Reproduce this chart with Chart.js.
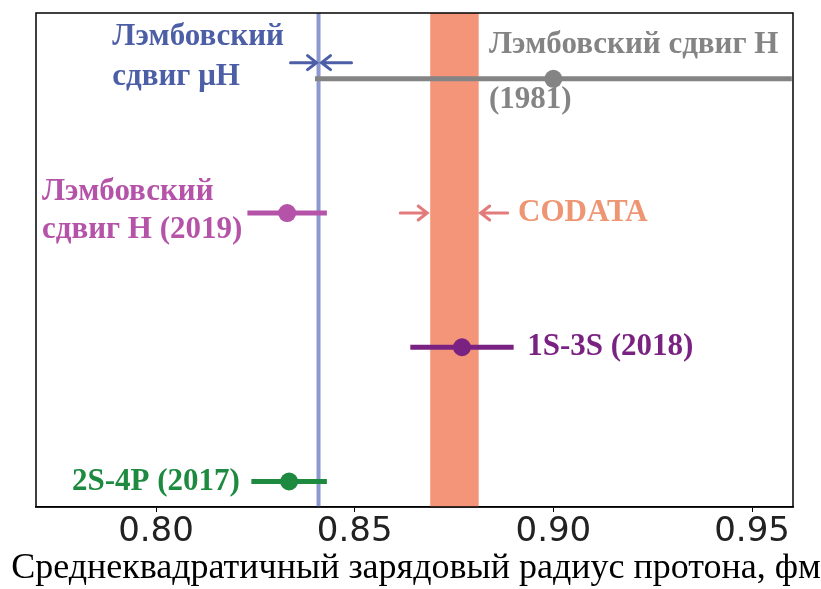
<!DOCTYPE html>
<html>
<head>
<meta charset="utf-8">
<script src="https://cdn.jsdelivr.net/npm/chart.js@4.4.1/dist/chart.umd.min.js"></script>
<style>
  body { margin: 0; background: #fff; }
  #wrap { width: 821px; height: 589px; }
</style>
</head>
<body>
<div id="wrap"><canvas id="chart"></canvas></div>
<script>
// ===== Data =====
const xTicks = [0.80, 0.85, 0.90, 0.95];
const measurements = ['2S-4P (2017)', '1S-3S (2018)', 'Лэмбовский сдвиг H (2019)', 'Лэмбовский сдвиг H (1981)'];
const radius = [0.8335, 0.877, 0.833, 0.900];
const uncertainty = [0.0095, 0.013, 0.010, 0.060];
const rowLevel = [0, 1, 2, 3];
const muonicRadius = 0.8409;
const codataRadius = 0.8751;
const codataUncertainty = 0.0061;
const xTitle = 'Среднеквадратичный зарядовый радиус протона, фм';

// ===== Styles =====
const rowColors = ['#1e8a40', '#7a2282', '#b553a9', '#848484'];
const muColor = '#8d98cf';
const muTextColor = '#4b5ea6';
const bandColor = '#f4957a';
const codataArrowColor = '#e27b7b';
const codataTextColor = '#ee9673';
const serifBold = 'bold 31px "Liberation Serif", "Times New Roman", serif';

// text labels: [text, x, y, align, color]
const annotations = [
  ['Лэмбовский', 0.789, 3.31, 'left', muTextColor],
  ['сдвиг μH', 0.789, 3.01, 'left', muTextColor],
  ['Лэмбовский сдвиг H', 0.8838, 3.25, 'left', rowColors[3]],
  ['(1981)', 0.8838, 2.84, 'left', rowColors[3]],
  ['Лэмбовский', 0.7713, 2.16, 'left', rowColors[2]],
  ['сдвиг H (2019)', 0.7713, 1.87, 'left', rowColors[2]],
  ['CODATA', 0.8911, 2.0, 'left', codataTextColor],
  ['1S-3S (2018)', 0.8934, 1.0, 'left', rowColors[1]],
  ['2S-4P (2017)', 0.8211, 0.0, 'right', rowColors[0]]
];

const yMin = -0.19, yMax = 3.49;

// ===== Datasets =====
const datasets = [];
datasets.push({
  type: 'scatter',
  data: radius.map((r, i) => ({ x: r, y: rowLevel[i] })),
  pointRadius: 9,
  pointHoverRadius: 9,
  pointBackgroundColor: rowColors,
  pointBorderColor: rowColors,
  pointBorderWidth: 0
});
radius.forEach((r, i) => {
  datasets.push({
    type: 'line',
    data: [{ x: r - uncertainty[i], y: rowLevel[i] }, { x: r + uncertainty[i], y: rowLevel[i] }],
    borderColor: rowColors[i],
    borderWidth: 5,
    pointRadius: 0
  });
});
datasets.push({
  type: 'line',
  data: [{ x: muonicRadius, y: yMin }, { x: muonicRadius, y: yMax }],
  borderColor: muColor,
  borderWidth: 4,
  pointRadius: 0
});

// ===== Helpers =====
function arrow(ctx, x1, y, x2, color) {
  const dir = Math.sign(x2 - x1);
  ctx.save();
  ctx.strokeStyle = color;
  ctx.lineWidth = 3;
  ctx.lineCap = 'round';
  ctx.beginPath();
  ctx.moveTo(x1, y);
  ctx.lineTo(x2, y);
  ctx.moveTo(x2 - dir * 9, y - 7);
  ctx.lineTo(x2, y);
  ctx.lineTo(x2 - dir * 9, y + 7);
  ctx.stroke();
  ctx.restore();
}

const decor = {
  id: 'decor',
  beforeDatasetsDraw(chart) {
    const { ctx, chartArea, scales: { x } } = chart;
    const lo = x.getPixelForValue(codataRadius - codataUncertainty);
    const hi = x.getPixelForValue(codataRadius + codataUncertainty);
    ctx.save();
    ctx.fillStyle = bandColor;
    ctx.fillRect(lo, chartArea.top, hi - lo, chartArea.bottom - chartArea.top);
    ctx.restore();
  },
  afterDatasetsDraw(chart) {
    const { ctx, scales: { x, y } } = chart;
    // muonic arrows
    const ym = y.getPixelForValue(3.12);
    const xm = x.getPixelForValue(muonicRadius);
    arrow(ctx, xm - 28, ym, xm - 2, muTextColor);
    arrow(ctx, xm + 33, ym, xm + 3, muTextColor);
    // CODATA arrows
    const yc = y.getPixelForValue(2.0);
    const lo = x.getPixelForValue(codataRadius - codataUncertainty);
    const hi = x.getPixelForValue(codataRadius + codataUncertainty);
    arrow(ctx, lo - 30, yc, lo - 3, codataArrowColor);
    arrow(ctx, hi + 29, yc, hi + 2, codataArrowColor);
    // labels
    ctx.save();
    ctx.font = serifBold;
    ctx.textBaseline = 'middle';
    annotations.forEach(([t, tx, ty, align, color]) => {
      ctx.fillStyle = color;
      ctx.textAlign = align;
      ctx.fillText(t, x.getPixelForValue(tx), y.getPixelForValue(ty));
    });
    ctx.restore();
  },
  afterDraw(chart) {
    const { ctx, chartArea: a } = chart;
    ctx.save();
    ctx.strokeStyle = '#000';
    ctx.lineWidth = 1.5;
    ctx.strokeRect(a.left, a.top, a.right - a.left, a.bottom - a.top);
    // axis title (wider than the axis, so drawn here)
    ctx.fillStyle = '#000';
    ctx.font = '36px "Liberation Serif", "Times New Roman", serif';
    ctx.textAlign = 'center';
    ctx.textBaseline = 'alphabetic';
    ctx.fillText(xTitle, 416, 578);
    ctx.restore();
  }
};

// ===== Chart =====
new Chart(document.getElementById('chart'), {
  type: 'scatter',
  data: { datasets },
  plugins: [decor],
  options: {
    responsive: true,
    maintainAspectRatio: false,
    animation: false,
    layout: { padding: { left: 36, top: 13, right: 28, bottom: 37 } },
    plugins: { legend: { display: false }, tooltip: { enabled: false } },
    scales: {
      x: {
        type: 'linear',
        min: 0.7698,
        max: 0.9603,
        afterBuildTicks: (scale) => { scale.ticks = xTicks.map(v => ({ value: v })); },
        grid: { drawOnChartArea: false, drawTicks: true, tickLength: 5, color: '#000' },
        border: { color: '#000', width: 1.5 },
        ticks: {
          padding: 3,
          color: '#222',
          font: { family: '"DejaVu Sans"', size: 34, lineHeight: 1.0 },
          callback: (v) => Number(v).toFixed(2)
        }
      },
      y: {
        display: false,
        min: yMin,
        max: yMax
      }
    }
  }
});
</script>
</body>
</html>
